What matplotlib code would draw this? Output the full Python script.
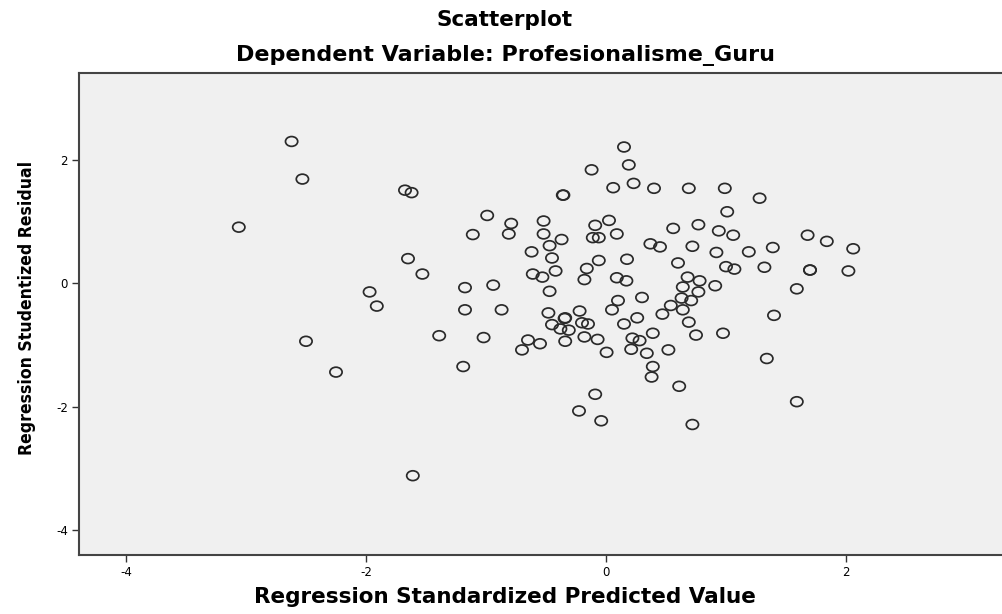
import numpy as np
import matplotlib
matplotlib.use('Agg')
import matplotlib.pyplot as plt
from matplotlib.path import Path
from matplotlib.transforms import Affine2D

plt.rcParams['axes.unicode_minus'] = False

# values (Regression Standardized Predicted Value, Studentized Residual)
pred_x = [-2.62, -2.53, -3.06, -1.97, -1.91, -2.50, -2.25, -1.61, -1.675, -1.62,
          -1.65, -1.53, -1.39, -1.19, -1.175, -1.175, -1.11, -1.02, -0.99, -0.94,
          -0.87, -0.81, -0.79, -0.70, -0.65, -0.62, -0.61, -0.55, -0.53, -0.52,
          -0.52, -0.48, -0.47, -0.47, -0.45, -0.45, -0.42, -0.38, -0.37, -0.36,
          -0.355, -0.34, -0.345, -0.34, -0.31, -0.22, -0.225, -0.20, -0.18, -0.18,
          -0.16, -0.15, -0.12, -0.11, -0.09, -0.09, -0.07, -0.06, -0.06, -0.04,
          0.005, 0.025, 0.05, 0.06, 0.09, 0.09, 0.10, 0.15, 0.15, 0.17,
          0.175, 0.19, 0.21, 0.22, 0.23, 0.26, 0.28, 0.30, 0.34, 0.37,
          0.39, 0.39, 0.38, 0.40, 0.45, 0.47, 0.52, 0.54, 0.56, 0.60,
          0.61, 0.63, 0.64, 0.64, 0.68, 0.69, 0.69, 0.71, 0.72, 0.72,
          0.75, 0.77, 0.77, 0.78, 0.91, 0.92, 0.94, 0.975, 0.99, 1.00,
          1.01, 1.06, 1.07, 1.19, 1.28, 1.32, 1.34, 1.39, 1.40, 1.59,
          1.59, 1.68, 1.70, 1.70, 1.84, 2.02, 2.06]
stud_resid = [2.30, 1.69, 0.91, -0.14, -0.37, -0.94, -1.44, -3.12, 1.51, 1.47,
              0.40, 0.15, -0.85, -1.35, -0.07, -0.43, 0.79, -0.88, 1.10, -0.03,
              -0.43, 0.80, 0.97, -1.08, -0.92, 0.51, 0.15, -0.98, 0.10, 1.01,
              0.80, -0.48, 0.61, -0.13, 0.41, -0.67, 0.20, -0.74, 0.71, 1.43,
              1.43, -0.56, -0.57, -0.94, -0.76, -0.45, -2.07, -0.64, 0.06, -0.87,
              0.24, -0.66, 1.84, 0.74, 0.94, -1.80, -0.91, 0.74, 0.37, -2.23,
              -1.12, 1.02, -0.43, 1.55, 0.80, 0.09, -0.28, 2.21, -0.66, 0.04,
              0.39, 1.92, -1.07, -0.89, 1.62, -0.56, -0.93, -0.23, -1.135, 0.64,
              -0.81, -1.35, -1.52, 1.54, 0.59, -0.50, -1.08, -0.36, 0.89, 0.33,
              -1.67, -0.24, -0.06, -0.43, 0.10, 1.54, -0.63, -0.28, 0.60, -2.29,
              -0.84, 0.95, -0.14, 0.04, -0.04, 0.50, 0.85, -0.81, 1.54, 0.27,
              1.16, 0.78, 0.23, 0.51, 1.38, 0.26, -1.22, 0.58, -0.52, -0.09,
              -1.92, 0.78, 0.215, 0.215, 0.68, 0.20, 0.56]
x_ticks = [-4, -2, 0, 2]
y_ticks = [-4, -2, 0, 2]

# slightly flattened open circle, like the SPSS output
ring = Path.unit_circle().transformed(Affine2D().scale(1.0, 0.8))

fig = plt.figure(figsize=(10.02, 6.14), dpi=100)
ax = fig.add_axes([0.0788, 0.0961, 0.9212, 0.785])
ax.set_facecolor('#f0f0f0')
ax.scatter(pred_x, stud_resid, marker=ring, s=8.8**2, facecolors='none',
           edgecolors='#2a2a2a', linewidths=1.25)
ax.set_xlim(-4.392, 3.30)
ax.set_ylim(-4.406, 3.41)
ax.set_xticks(x_ticks)
ax.set_yticks(y_ticks)
ax.tick_params(length=5, width=1, color='#333333', labelsize=8.5, pad=3)
for side in ['left', 'bottom', 'top']:
    ax.spines[side].set_color('#444444')
    ax.spines[side].set_linewidth(1.5)
ax.spines['right'].set_visible(False)

fig.text(0.504, 0.967, 'Scatterplot', ha='center', va='center',
         fontsize=15.5, fontweight='bold')
fig.text(0.504, 0.910, 'Dependent Variable: Profesionalisme_Guru', ha='center',
         va='center', fontsize=16, fontweight='bold')
fig.text(0.504, 0.028, 'Regression Standardized Predicted Value', ha='center',
         va='center', fontsize=15.5, fontweight='bold')
fig.text(0.027, 0.498, 'Regression Studentized Residual', ha='center', va='center',
         rotation=90, fontsize=12.6, fontweight='bold', fontstretch='condensed',
         family='DejaVu Sans')

fig.savefig('out.png', dpi=100, facecolor='white')
